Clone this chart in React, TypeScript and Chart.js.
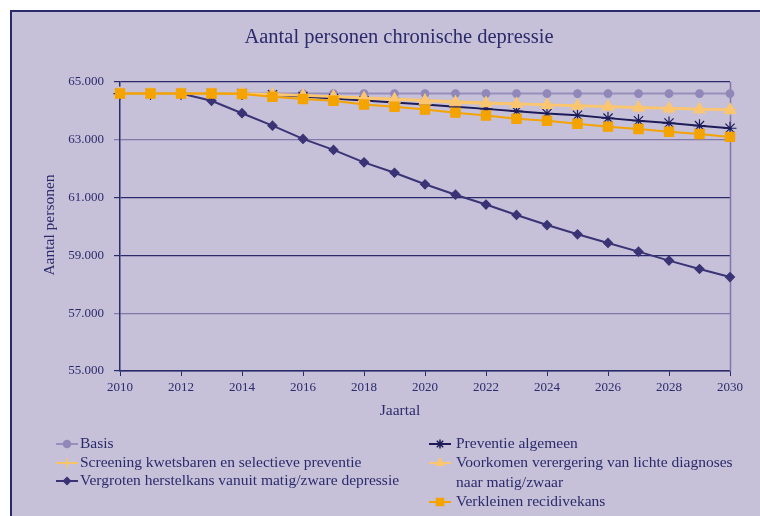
import React, { useEffect, useRef } from "react";
import { Chart, registerables } from "chart.js";
import { drawPoint } from "chart.js/helpers";

Chart.register(...registerables);

// Years on the horizontal axis
const years = [2010, 2011, 2012, 2013, 2014, 2015, 2016, 2017, 2018, 2019, 2020, 2021, 2022, 2023, 2024, 2025, 2026, 2027, 2028, 2029, 2030];

// Number of people with chronic depression per scenario
const basis = [64600, 64600, 64600, 64600, 64600, 64600, 64600, 64600, 64600, 64600, 64600, 64600, 64600, 64600, 64600, 64600, 64600, 64600, 64600, 64600, 64600];
const preventieAlgemeen = [64600, 64600, 64600, 64600, 64600, 64560, 64500, 64430, 64360, 64290, 64220, 64140, 64070, 63990, 63910, 63850, 63750, 63660, 63580, 63490, 63400];
const screening = [64600, 64600, 64600, 64600, 64600, 64580, 64545, 64505, 64460, 64420, 64375, 64330, 64290, 64260, 64225, 64195, 64165, 64135, 64100, 64075, 64050];
const voorkomen = [64600, 64600, 64600, 64600, 64600, 64570, 64530, 64490, 64440, 64400, 64350, 64290, 64260, 64235, 64200, 64170, 64145, 64110, 64080, 64055, 64030];
const vergroten = [64600, 64600, 64600, 64350, 63920, 63490, 63030, 62650, 62220, 61860, 61460, 61100, 60760, 60400, 60050, 59730, 59430, 59130, 58820, 58530, 58250];
const verkleinen = [64600, 64600, 64600, 64600, 64585, 64490, 64410, 64350, 64220, 64145, 64045, 63940, 63840, 63730, 63660, 63555, 63455, 63375, 63280, 63200, 63100];

// Axis range and labels
const yMin = 55000;
const yMax = 65000;
const yStep = 2000;
const xStep = 2;

const title = "Aantal personen chronische depressie";
const yTitle = "Aantal personen";
const xTitle = "Jaartal";

const BG = "#c6c1d9";
const NAVY = "#2b2a6b";
const GRID_LIGHT = "#7f78a8";
const FONT = "'Liberation Serif', 'DejaVu Serif', serif";

type Series = {
  label: string[];
  values: number[];
  color: string;
  pointColor: string;
  pointStyle: string;
  radius: number;
  legendRadius: number;
  width: number;
  order: number;
};

const series: Series[] = [
  { label: ["Basis"], values: basis, color: "#9790bd", pointColor: "#9088b8", pointStyle: "circle", radius: 3.8, legendRadius: 3.5, width: 2, order: 5 },
  { label: ["Screening kwetsbaren en selectieve preventie"], values: screening, color: "#f9c466", pointColor: "#f9c466", pointStyle: "cross", radius: 6, legendRadius: 5, width: 2, order: 3 },
  { label: ["Vergroten herstelkans vanuit matig/zware depressie"], values: vergroten, color: "#3a3375", pointColor: "#3a3375", pointStyle: "rectRot", radius: 4.5, legendRadius: 3.5, width: 2, order: 4 },
  { label: ["Preventie algemeen"], values: preventieAlgemeen, color: "#1e1c58", pointColor: "#1e1c58", pointStyle: "star", radius: 6.5, legendRadius: 4.5, width: 2, order: 2 },
  { label: ["Voorkomen verergering van lichte diagnoses", "naar matig/zwaar"], values: voorkomen, color: "#fcc670", pointColor: "#fcc670", pointStyle: "triangle", radius: 6.5, legendRadius: 4.5, width: 2.5, order: 1 },
  { label: ["Verkleinen recidivekans"], values: verkleinen, color: "#f4a300", pointColor: "#f4a300", pointStyle: "rect", radius: 6.5, legendRadius: 5, width: 2, order: 0 },
];

// Legend placement: two columns, rows given per entry
const legendLayout = [
  { idx: 0, x: 56, y: 444, text: 80 },
  { idx: 1, x: 56, y: 463, text: 80 },
  { idx: 2, x: 56, y: 481, text: 80 },
  { idx: 3, x: 429, y: 444, text: 456 },
  { idx: 4, x: 429, y: 463, text: 456 },
  { idx: 5, x: 429, y: 502, text: 456 },
];

const framePlugin = {
  id: "framePlugin",
  beforeDraw(chart: any) {
    const { ctx, width, height } = chart;
    ctx.save();
    ctx.fillStyle = "#ffffff";
    ctx.fillRect(0, 0, width, height);
    ctx.fillStyle = BG;
    ctx.fillRect(10, 10, width - 10, height - 10);
    ctx.strokeStyle = NAVY;
    ctx.lineWidth = 2;
    ctx.beginPath();
    ctx.moveTo(11, height);
    ctx.lineTo(11, 11);
    ctx.lineTo(width, 11);
    ctx.stroke();
    ctx.restore();
  },
  beforeDatasetsDraw(chart: any) {
    const { ctx, chartArea } = chart;
    ctx.save();
    ctx.strokeStyle = GRID_LIGHT;
    ctx.lineWidth = 1.5;
    ctx.beginPath();
    ctx.moveTo(Math.round(chartArea.right) + 0.5, chartArea.top);
    ctx.lineTo(Math.round(chartArea.right) + 0.5, chartArea.bottom);
    ctx.stroke();
    ctx.restore();
  },
  afterDraw(chart: any) {
    const { ctx } = chart;
    ctx.save();
    ctx.fillStyle = NAVY;

    // Title
    ctx.font = `20.5px ${FONT}`;
    ctx.textAlign = "center";
    ctx.textBaseline = "middle";
    ctx.fillText(title, 399, 38);

    // Axis titles
    ctx.font = `15.5px ${FONT}`;
    ctx.fillText(xTitle, 400, 411);
    ctx.save();
    ctx.translate(50, 225);
    ctx.rotate(-Math.PI / 2);
    ctx.fillText(yTitle, 0, 0);
    ctx.restore();

    // Legend
    ctx.font = `15.5px ${FONT}`;
    ctx.textAlign = "left";
    legendLayout.forEach(({ idx, x, y, text }) => {
      const s = series[idx];
      ctx.strokeStyle = s.color;
      ctx.lineWidth = 2;
      ctx.beginPath();
      ctx.moveTo(x, y);
      ctx.lineTo(x + 22, y);
      ctx.stroke();
      ctx.fillStyle = s.pointColor;
      ctx.strokeStyle = s.pointColor;
      ctx.lineWidth = 1.5;
      drawPoint(ctx, { pointStyle: s.pointStyle as any, radius: s.legendRadius, rotation: 0, borderWidth: 1.5 }, x + 11, y);
      ctx.fillStyle = NAVY;
      s.label.forEach((line, i) => ctx.fillText(line, text, y + i * 20));
    });
    ctx.restore();
  },
};

export default function App() {
  const canvasRef = useRef<HTMLCanvasElement | null>(null);

  useEffect(() => {
    if (!canvasRef.current) return;
    const chart = new Chart(canvasRef.current, {
      type: "line",
      data: {
        datasets: series.map((s) => ({
          label: s.label.join(" "),
          data: years.map((yr, i) => ({ x: yr, y: s.values[i] })),
          borderColor: s.color,
          backgroundColor: s.pointColor,
          pointBackgroundColor: s.pointColor,
          pointBorderColor: s.pointColor,
          pointStyle: s.pointStyle as any,
          pointRadius: s.radius,
          pointBorderWidth: 1.2,
          borderWidth: s.width,
          tension: 0,
          order: s.order,
          fill: false,
          clip: false as any,
        })),
      },
      options: {
        animation: false,
        responsive: false,
        events: [],
        layout: { padding: { left: 0, top: 82, right: 30, bottom: 105 } },
        plugins: {
          legend: { display: false },
          title: { display: false },
          tooltip: { enabled: false },
        },
        scales: {
          x: {
            type: "linear",
            min: years[0],
            max: years[years.length - 1],
            afterFit: (scale: any) => {
              scale.height = 40;
            },
            border: { display: true, color: NAVY, width: 1.5 },
            grid: { drawOnChartArea: false, drawTicks: true, tickLength: 5, color: NAVY },
            ticks: {
              stepSize: xStep,
              padding: 4,
              color: NAVY,
              font: { family: FONT, size: 13 },
              callback: (v: any) => String(v),
              maxRotation: 0,
            },
          },
          y: {
            type: "linear",
            min: yMin,
            max: yMax,
            afterFit: (scale: any) => {
              scale.width = 120;
            },
            border: { display: true, color: NAVY, width: 1.5 },
            grid: {
              drawTicks: true,
              tickLength: 6,
              lineWidth: 1.2,
              color: (ctx: any) => {
                const v = ctx.tick ? ctx.tick.value : 0;
                return v === 63000 || v === 57000 ? GRID_LIGHT : NAVY;
              },
            },
            ticks: {
              stepSize: yStep,
              padding: 10,
              color: NAVY,
              font: { family: FONT, size: 13 },
              callback: (v: any) => (Number(v) / 1000).toFixed(3),
            },
          },
        },
      },
      plugins: [framePlugin],
    });
    return () => chart.destroy();
  }, []);

  return (
    <div style={{ position: "fixed", left: 0, top: 0, width: 760, height: 516 }}>
      <canvas ref={canvasRef} width={760} height={516} style={{ display: "block" }} />
    </div>
  );
}
